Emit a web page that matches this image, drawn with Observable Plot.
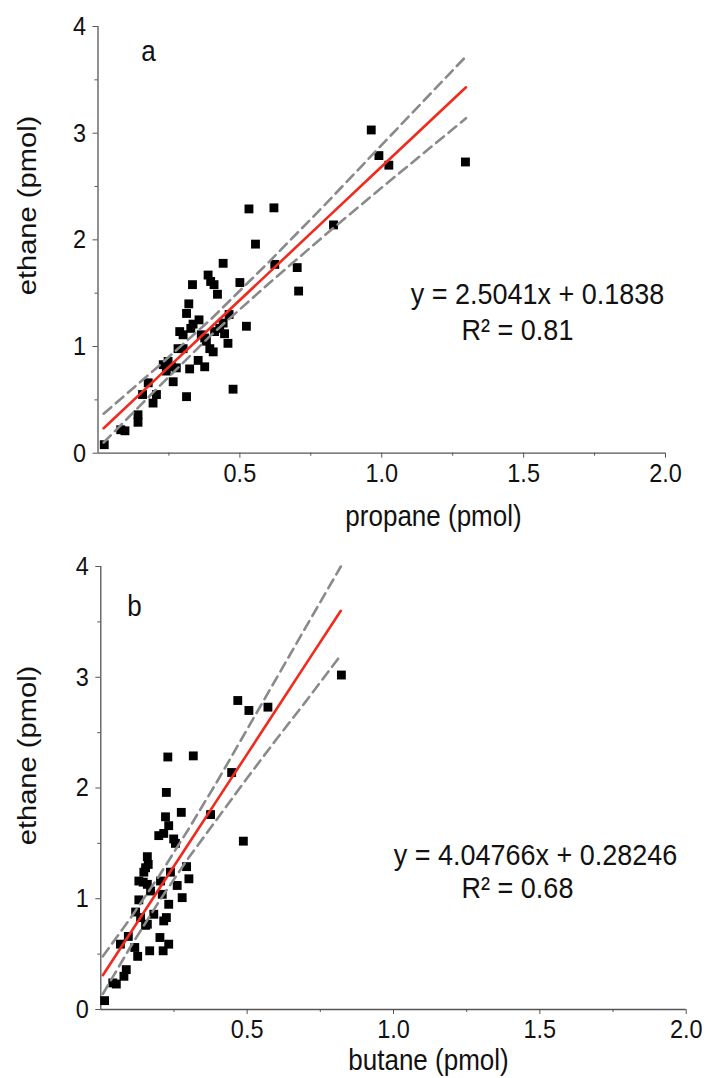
<!DOCTYPE html>
<html>
<head>
<meta charset="utf-8">
<script src="https://cdn.jsdelivr.net/npm/d3@7"></script>
<script src="https://cdn.jsdelivr.net/npm/@observablehq/plot@0.6"></script>
<style>
  html, body { margin: 0; padding: 0; background: #fff; }
  #chart { width: 706px; }
  #chart svg { display: block; }
</style>
</head>
<body>
<div id="chart"></div>
<script>
// ---------- Panel a: propane vs ethane ----------
const propaneA = [0.022,0.08,0.095,0.141,0.141,0.157,0.177,0.194,0.206,0.23,0.241,0.247,0.259,0.265,0.276,0.282,0.288,0.30,0.30,0.312,0.323,0.312,0.32,0.327,0.335,0.333,0.353,0.356,0.364,0.376,0.376,0.382,0.388,0.394,0.397,0.406,0.409,0.411,0.421,0.429,0.441,0.441,0.446,0.458,0.462,0.476,0.50,0.523,0.532,0.555,0.62,0.623,0.702,0.707,0.83,0.963,0.99,1.025,1.295];
const ethaneA  = [0.08,0.22,0.21,0.36,0.29,0.55,0.66,0.47,0.55,0.83,0.77,0.86,0.81,0.67,0.80,0.98,1.14,1.11,0.98,0.53,0.79,1.31,1.40,1.17,1.21,1.58,0.87,1.25,1.11,1.08,0.81,1.05,1.67,0.98,1.61,0.95,1.58,1.14,1.49,1.17,1.22,1.78,1.12,1.03,1.30,0.60,1.60,1.19,2.29,1.96,2.30,1.77,1.74,1.52,2.14,3.03,2.79,2.70,2.73];

const fitAx   = [0.02, 0.2, 0.4, 0.6, 0.8, 1.0, 1.297];
const fitAy   = [0.234, 0.685, 1.186, 1.686, 2.187, 2.688, 3.43];
const upperAy = [0.37, 0.785, 1.261, 1.786, 2.33, 2.89, 3.72];
const lowerAy = [0.10, 0.585, 1.111, 1.586, 2.045, 2.49, 3.14];

// ---------- Panel b: butane vs ethane ----------
const butaneB = [0.013,0.041,0.053,0.079,0.087,0.067,0.094,0.116,0.126,0.119,0.130,0.136,0.153,0.159,0.130,0.145,0.147,0.153,0.159,0.162,0.159,0.170,0.167,0.181,0.198,0.215,0.204,0.210,0.202,0.213,0.215,0.221,0.232,0.224,0.229,0.224,0.232,0.232,0.238,0.249,0.255,0.261,0.278,0.275,0.293,0.301,0.316,0.375,0.447,0.468,0.487,0.506,0.571,0.822];
const ethaneB = [0.08,0.24,0.23,0.30,0.36,0.59,0.66,0.56,0.48,0.88,0.99,0.83,0.76,0.77,1.16,1.15,1.24,1.28,1.38,1.31,1.13,1.07,0.53,0.86,1.57,1.59,1.16,1.04,0.65,0.53,0.80,1.74,1.66,1.96,2.28,0.83,0.95,0.59,1.24,1.54,1.50,1.12,1.01,1.78,1.29,1.18,2.29,1.76,2.14,2.79,1.52,2.70,2.73,3.02];

const fitBx   = [0.007, 0.1, 0.2, 0.3, 0.4, 0.5, 0.6, 0.7, 0.82];
const fitBy   = [0.31, 0.687, 1.092, 1.497, 1.902, 2.306, 2.711, 3.116, 3.60];
const upperBy = [0.48, 0.82, 1.21, 1.63, 2.07, 2.53, 2.99, 3.45, 4.00];
const lowerBy = [0.14, 0.56, 0.98, 1.37, 1.73, 2.09, 2.44, 2.78, 3.20];

// ---------- Axes ----------
const xDomain = [0, 2];
const yDomain = [0, 4];
const xMajorTicks = [0.5, 1.0, 1.5, 2.0];
const xMinorTicks = [0.25, 0.75, 1.25, 1.75];
const yMajorTicks = [0, 1, 2, 3, 4];
const yMinorTicks = [0.5, 1.5, 2.5, 3.5];

const FONT = "'Liberation Sans', Arial, Helvetica, sans-serif";
const AXIS_COLOR = "#555";
const RED = "#f2291c";
const DASH = "#8a8a8a";
const STRETCH = 1.12; // the reference glyphs are taller than wide

function pts(xs, ys) { return xs.map((x, i) => ({x, y: ys[i]})); }

function panel(cfg) {
  const W = 706, H = 539;
  const label = (txt, px, py, size, extra = {}) => Plot.text([txt], {
    frameAnchor: "top-left", dx: px - cfg.ml, dy: py - cfg.mt, text: d => d,
    fontSize: size, fill: "#111", textAnchor: "middle", lineAnchor: "middle", ...extra
  });
  return Plot.plot({
    width: W, height: H,
    marginLeft: cfg.ml, marginRight: W - cfg.xr, marginTop: cfg.mt, marginBottom: H - cfg.yb,
    style: {fontFamily: FONT, background: "#fff", overflow: "visible"},
    x: {domain: xDomain},
    y: {domain: yDomain},
    marks: [
      Plot.ruleY([0], {x1: xDomain[0], x2: xDomain[1], stroke: AXIS_COLOR, strokeWidth: 1.3}),
      Plot.ruleX([0], {y1: yDomain[0], y2: yDomain[1], stroke: AXIS_COLOR, strokeWidth: 1.3}),
      Plot.axisX({ticks: xMajorTicks, tickSize: 5, tickPadding: 5, tickFormat: d3.format(".1f"), fontSize: 23.5, stroke: AXIS_COLOR, fill: "#111", label: null}),
      Plot.axisX({ticks: xMinorTicks, tickSize: 3, tickFormat: () => "", stroke: AXIS_COLOR, label: null}),
      Plot.axisY({ticks: yMajorTicks, tickSize: 5, tickPadding: 7, tickFormat: d3.format("d"), fontSize: 23.5, stroke: AXIS_COLOR, fill: "#111", label: null}),
      Plot.axisY({ticks: yMinorTicks, tickSize: 3, tickFormat: () => "", stroke: AXIS_COLOR, label: null}),
      Plot.dot(pts(cfg.px, cfg.py), {x: "x", y: "y", symbol: "square", r: 5, fill: "#000", stroke: "none"}),
      Plot.line(pts(cfg.fx, cfg.up), {x: "x", y: "y", stroke: DASH, strokeWidth: 2.6, strokeDasharray: "10,6"}),
      Plot.line(pts(cfg.fx, cfg.lo), {x: "x", y: "y", stroke: DASH, strokeWidth: 2.6, strokeDasharray: "10,6"}),
      Plot.line(pts(cfg.fx, cfg.fy), {x: "x", y: "y", stroke: RED, strokeWidth: 2.6}),
      label(cfg.letter, cfg.letterPos[0], cfg.letterPos[1], 26),
      label(cfg.eq, cfg.eqPos[0], cfg.eqPos[1], 27),
      label(cfg.r2, cfg.r2Pos[0], cfg.r2Pos[1], 27),
      label(cfg.xLabel, cfg.xLabelPos[0], cfg.xLabelPos[1], 26),
      label(cfg.yLabel, cfg.yLabelPos[0], cfg.yLabelPos[1], 26, {rotate: -90})
    ]
  });
}

const figA = panel({
  ml: 97.5, xr: 665, mt: 26, yb: 452.7,
  px: propaneA, py: ethaneA, fx: fitAx, fy: fitAy, up: upperAy, lo: lowerAy,
  letter: "a", letterPos: [148, 51],
  eq: "y = 2.5041x + 0.1838", eqPos: [537, 294],
  r2: "R² = 0.81", r2Pos: [517, 330],
  xLabel: "propane (pmol)", xLabelPos: [433, 516],
  yLabel: "ethane (pmol)", yLabelPos: [27, 205]
});

const figB = panel({
  ml: 100.3, xr: 685.7, mt: 27, yb: 470,
  px: butaneB, py: ethaneB, fx: fitBx, fy: fitBy, up: upperBy, lo: lowerBy,
  letter: "b", letterPos: [134, 67],
  eq: "y = 4.04766x + 0.28246", eqPos: [535, 316],
  r2: "R² = 0.68", r2Pos: [517, 349],
  xLabel: "butane (pmol)", xLabelPos: [428, 521],
  yLabel: "ethane (pmol)", yLabelPos: [27, 216]
});

// Stretch glyphs vertically (along the page) to match the reference's tall lettering.
for (const fig of [figA, figB]) {
  d3.select(fig).selectAll("text").each(function () {
    const t = this.getAttribute("transform");
    if (!t || !t.includes("translate")) return;
    this.setAttribute("transform", t + (t.includes("rotate") ? ` scale(${STRETCH},1)` : ` scale(1,${STRETCH})`));
  });
}

const root = document.getElementById("chart");
root.appendChild(figA);
root.appendChild(figB);
</script>
</body>
</html>
